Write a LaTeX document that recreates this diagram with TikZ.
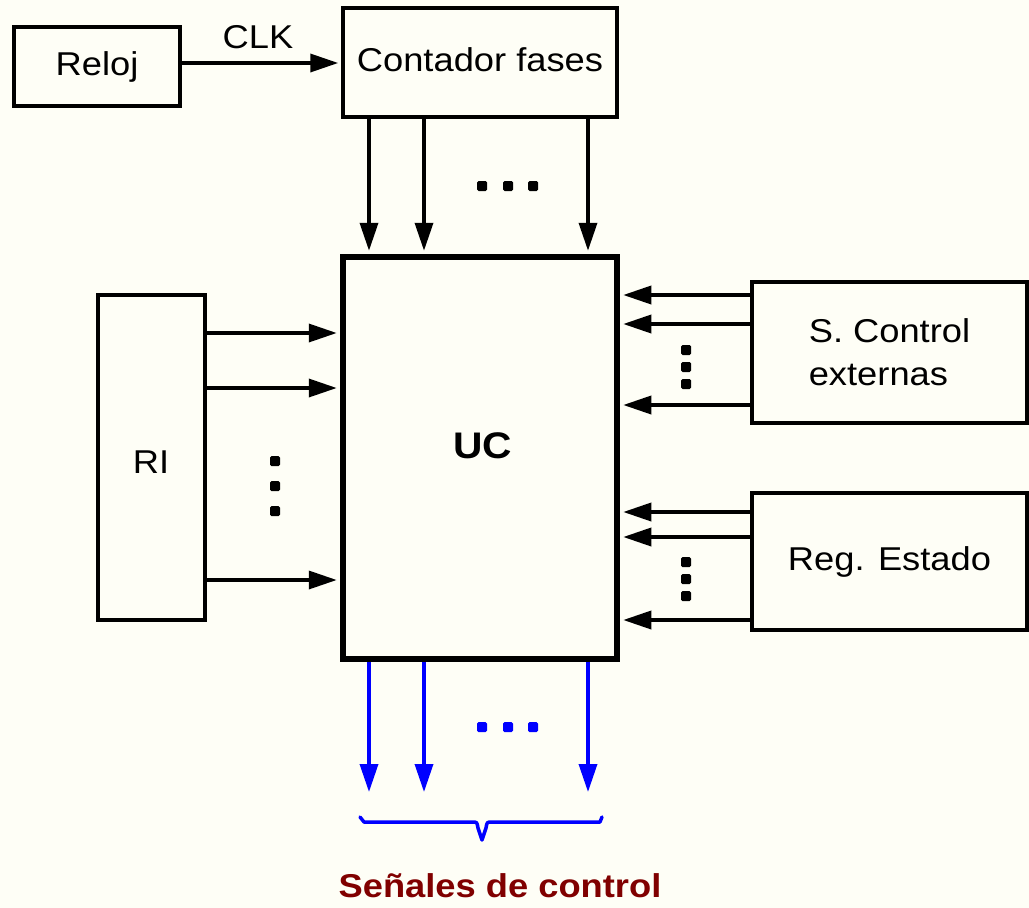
\documentclass[tikz,border=0pt]{standalone}
\usepackage{fontspec}
\setmainfont{Liberation Sans}[FakeStretch=1.1]
\usetikzlibrary{arrows.meta}
\definecolor{bg}{HTML}{FEFEF6}
\definecolor{darkred}{HTML}{800000}
\definecolor{sigblue}{HTML}{0000FF}
\begin{document}
\begin{tikzpicture}[x=1pt,y=-1pt,
  box/.style={draw, line width=3.5pt, inner sep=0pt, font=\fontsize{33}{43}\selectfont},
  ucbox/.style={draw, line width=6.5pt, inner sep=0pt},
  arr/.style={line width=3.5pt, -{Triangle[length=28pt,width=18pt]}, shorten >=3pt},
  sig/.style={arr, draw=sigblue, shorten >=0pt},
  lab/.style={font=\fontsize{33}{43}\selectfont, inner sep=0pt},
  dotsq/.style={rounded corners=1.5pt}
]
\useasboundingbox (0,0) rectangle (1029,908);
\fill[bg] (0,0) rectangle (1029,908);

% boxes
\node[box, minimum width=166pt, minimum height=79pt] (reloj) at (97,66.5) {Reloj};
\node[box, minimum width=274pt, minimum height=109pt] (cf) at (480,62.5) {\raisebox{6pt}{Contador fases}};
\node[ucbox, minimum width=274pt, minimum height=402pt] (uc) at (480,458) {};
\node[font=\bfseries\fontsize{37}{40}\selectfont, inner sep=0pt] (ucl) at (483,446) {UC};
\node[box, minimum width=107pt, minimum height=325pt] (ri) at (151.5,457.5) {};
\node[lab] (ril) at (151,462) {RI};
\node[box, minimum width=275pt, minimum height=141pt, align=left] (sc) at (889.5,352.5) {S. Control\\externas\hspace*{5pt}};
\node[box, minimum width=275pt, minimum height=137pt] (re) at (889.5,561.5) {Reg. Estado};

% clock
\draw[arr] (reloj.east |- 0,63) -- (cf.west |- 0,63);
\node[lab] (clk) at (258,37) {CLK};

% phase counter to UC
\foreach \x in {369,424,588}
  \draw[arr] (cf.south -| \x,0) -- (uc.north -| \x,0);

% RI to UC
\foreach \y in {333,388,580}
  \draw[arr] (ri.east |- 0,\y) -- (uc.west |- 0,\y);

% external control to UC
\foreach \y in {295,324,405}
  \draw[arr] (sc.west |- 0,\y) -- (uc.east |- 0,\y);

% status register to UC
\foreach \y in {512,537,620}
  \draw[arr] (re.west |- 0,\y) -- (uc.east |- 0,\y);

% output signals
\coordinate (o1) at (369,792);
\coordinate (o2) at (424,792);
\coordinate (o3) at (588,792);
\draw[sig] (uc.south -| o1) -- (o1);
\draw[sig] (uc.south -| o2) -- (o2);
\draw[sig] (uc.south -| o3) -- (o3);

% dots
\foreach \x in {482,508,533}
  \fill[dotsq] (\x-5,186-5) rectangle (\x+5,186+5);
\foreach \x in {482,508,533}
  \fill[dotsq, sigblue] (\x-5,727-5) rectangle (\x+5,727+5);
\foreach \y in {461,486,511}
  \fill[dotsq] (275-5,\y-5) rectangle (275+5,\y+5);
\foreach \y in {350,367,384}
  \fill[dotsq] (686-5,\y-5) rectangle (686+5,\y+5);
\foreach \y in {562,579,596}
  \fill[dotsq] (686-5,\y-5) rectangle (686+5,\y+5);

% brace
\draw[sigblue, line width=3.5pt, line join=round, line cap=round]
  (360,817) -- (364,822) -- (472,822) .. controls (477,822) .. (478,828)
  -- (482,840) -- (486,828) .. controls (487,822) .. (492,822) -- (600,822) -- (602,817);

\node[font=\bfseries\fontsize{33}{36}\selectfont, text=darkred, inner sep=0pt] (sig) at (500,886) {Señales de control};
\end{tikzpicture}
\end{document}
